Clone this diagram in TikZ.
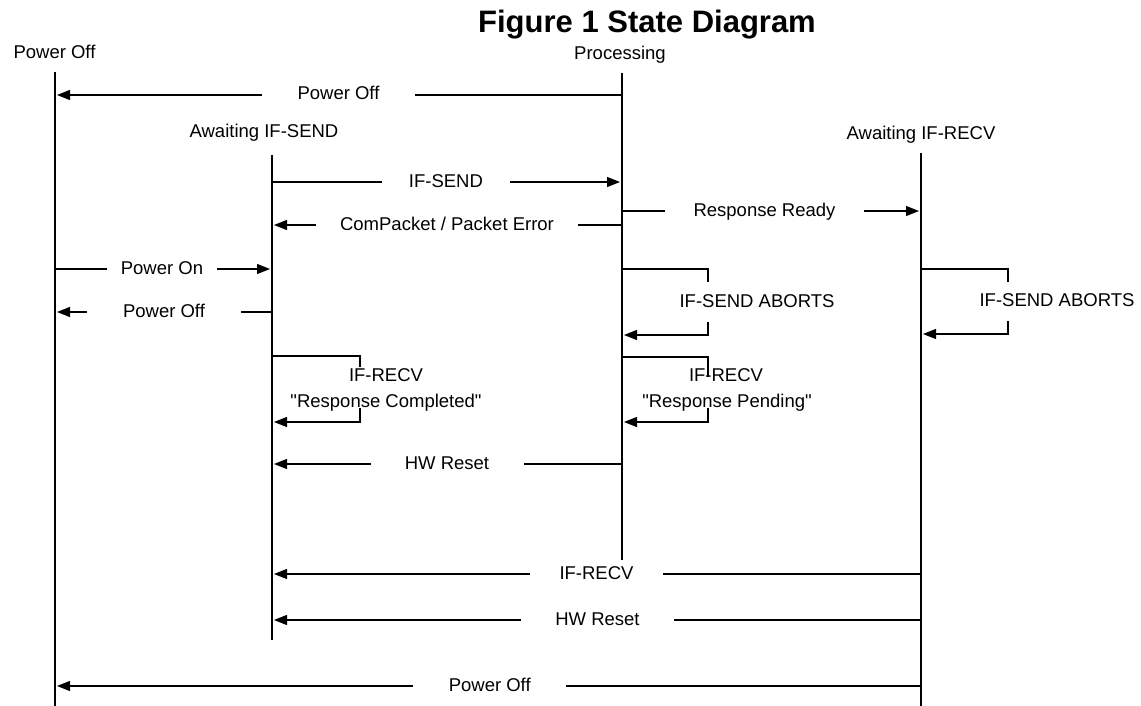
\documentclass[tikz,border=0pt]{standalone}
\usepackage{fontspec}
\setmainfont{Liberation Sans}
\usetikzlibrary{arrows.meta}
\newcommand{\straightdq}{\XeTeXglyph\XeTeXcharglyph"22\relax}
\begin{document}
\begin{tikzpicture}[x=1pt,y=-1pt,
  lbl/.style={font=\fontsize{18.5}{26}\selectfont, inner sep=0pt, text height=13pt, text depth=0pt},
  gap/.style={lbl, fill=white, minimum height=12pt, yshift=1.5pt},
  life/.style={line width=1.5pt},
  ln/.style={line width=1.4pt},
  msg/.style={ln, -{Triangle[length=13pt,width=10pt]}, shorten >=2pt},
]
\useasboundingbox (0,0) rectangle (1141,706);
\node[font=\bfseries\fontsize{31}{36}\selectfont, anchor=base, inner sep=0pt] (title) at (647,33) {Figure 1 State Diagram};

% state headers
\node[lbl] (hPO) at (54.5,52) {Power Off};
\node[lbl] (hPR) at (620,53) {Processing};
\node[lbl] (hAS) at (264,131) {Awaiting IF-SEND};
\node[lbl] (hAR) at (921,133) {Awaiting IF-RECV};

% lifelines
\coordinate (PO) at (55,72);   \coordinate (POe) at (55,706);
\coordinate (AS) at (272,155); \coordinate (ASe) at (272,640);
\coordinate (PR) at (622,73);  \coordinate (PRe) at (622,560);
\coordinate (AR) at (921,153); \coordinate (ARe) at (921,706);
\draw[life] (PO) -- (POe);
\draw[life] (AS) -- (ASe);
\draw[life] (PR) -- (PRe);
\draw[life] (AR) -- (ARe);

% transitions
\draw[msg] (PR |- 0,95) -- node[gap, minimum width=153pt] (t1) {Power Off} (PO |- 0,95);
\draw[msg] (AS |- 0,182) -- node[gap, minimum width=128pt, pos=0.497] (t2) {IF-SEND} (PR |- 0,182);
\draw[msg] (PR |- 0,211) -- node[gap, minimum width=199pt, pos=0.4766] (t3) {Response Ready} (AR |- 0,211);
\draw[msg] (PR |- 0,225) -- node[gap, minimum width=262pt] (t4) {ComPacket / Packet Error} (AS |- 0,225);
\draw[msg] (PO |- 0,269) -- node[gap, minimum width=110pt, pos=0.493] (t5) {Power On} (AS |- 0,269);
\draw[msg] (AS |- 0,312) -- node[gap, minimum width=154pt, pos=0.4977] (t6) {Power Off} (PO |- 0,312);
\draw[msg] (PR |- 0,464) -- node[gap, minimum width=153pt] (t7) {HW Reset} (AS |- 0,464);
\draw[msg] (AR |- 0,574) -- node[gap, minimum width=133pt] (t8) {IF-RECV} (AS |- 0,574);
\draw[msg] (AR |- 0,620) -- node[gap, minimum width=153pt, pos=0.4985] (t9) {HW Reset} (AS |- 0,620);
\draw[msg] (AR |- 0,686) -- node[gap, minimum width=153pt, pos=0.498] (t10) {Power Off} (PO |- 0,686);

% self loops
\draw[ln] (PR |- 0,269) -| (708,282);
\draw[msg] (708,322) |- (PR |- 0,335);
\node[lbl] (l1) at (757,301) {IF-SEND ABORTS};

\draw[ln] (AR |- 0,269) -| (1008,282);
\draw[msg] (1008,321) |- (AR |- 0,334);
\node[lbl] (l2) at (1057,300) {IF-SEND ABORTS};

\draw[ln] (AS |- 0,356) -| (360,367);
\draw[msg] (360,408) |- (AS |- 0,422);
\node[lbl] (l3a) at (386,375) {IF-RECV};
\node[lbl] (l3b) at (386,401) {\straightdq Response Completed\straightdq};

\draw[ln] (PR |- 0,357) -| (708,377);
\draw[msg] (708,408) |- (PR |- 0,422);
\node[lbl] (l4a) at (726,375) {IF-RECV};
\node[lbl] (l4b) at (727,401) {\straightdq Response Pending\straightdq};
\end{tikzpicture}
\end{document}
